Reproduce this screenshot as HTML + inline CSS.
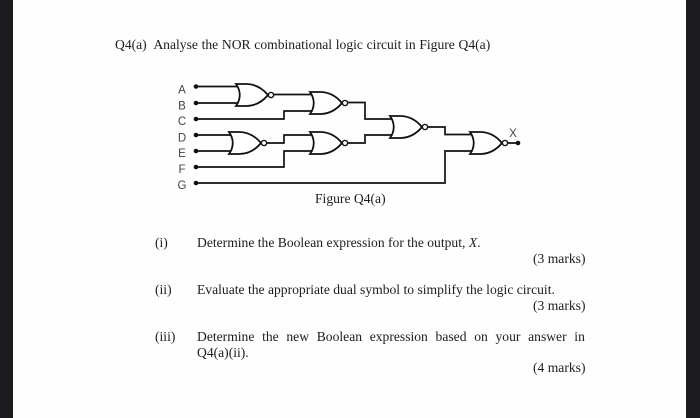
<!DOCTYPE html>
<html><head><meta charset="utf-8"><style>
html,body{margin:0;padding:0;background:#fff}
#p{position:relative;width:700px;height:418px;overflow:hidden;background:#fefefe;font-family:"Liberation Serif",serif;font-size:13.6px;color:#1c1c1c}
.t{position:absolute;white-space:nowrap;line-height:14px;filter:blur(.25px)}
.b{position:absolute;top:0;bottom:0;background:#1c1c1e}
svg{position:absolute;left:0;top:0;filter:blur(.35px)}
</style></head><body><div id="p">
<div class="b" style="left:0;width:13px"></div>
<div class="b" style="left:686px;width:14px"></div>
<svg width="700" height="418" viewBox="0 0 700 418">
<defs><g id="g"><path d="M0 0H10C20 0 27 5 32 11C27 17 20 22 10 22H0C5 15 5 7 0 0Z" fill="#fff" stroke="#111" stroke-width="1.8"/><circle cx="35" cy="11" r="2.6" fill="#fff" stroke="#111" stroke-width="1.4"/></g></defs>
<g fill="none" stroke="#111" stroke-width="1.7">
<path d="M196 86.500H238M196 103H238M274 94.500H311M196 119H284V111H312"/>
<path d="M196 135H231M196 151H231M266 143H284V135H312M196 167H284V151H312"/>
<path d="M346 102.500H365V119H392M346 143H365V135H392"/>
<path d="M427 127H445V134.500H472M196 183H445V151H472M507 143H518"/>
</g>
<use href="#g" x="236" y="84"/><use href="#g" x="310" y="92"/>
<use href="#g" x="229" y="132"/><use href="#g" x="310" y="132"/>
<use href="#g" x="390" y="116"/><use href="#g" x="470" y="132"/>
<g fill="#111"><circle cx="196" cy="86.500" r="2.300"/><circle cx="196" cy="103" r="2.300"/><circle cx="196" cy="119" r="2.300"/><circle cx="196" cy="135" r="2.300"/><circle cx="196" cy="151" r="2.300"/><circle cx="196" cy="167" r="2.300"/><circle cx="196" cy="183" r="2.300"/><circle cx="518" cy="143" r="2.300"/></g>
<g font-family="Liberation Sans,sans-serif" font-size="11.500" fill="#444" text-anchor="middle">
<text x="182" y="93.500">A</text><text x="182" y="109.500">B</text><text x="182" y="125">C</text><text x="182" y="141.500">D</text><text x="182" y="157">E</text><text x="182" y="173">F</text><text x="182" y="189">G</text><text x="513" y="137">X</text></g>
</svg>
<div class="t" style="left:115px;top:38px;word-spacing:.3px">Q4(a)&nbsp; Analyse the NOR combinational logic circuit in Figure Q4(a)</div>
<div class="t" style="left:315px;top:192px">Figure Q4(a)</div>
<div class="t" style="left:155px;top:236px">(i)</div>
<div class="t" style="left:197px;top:236px">Determine the Boolean expression for the output, <i>X</i>.</div>
<div class="t" style="left:533px;top:252px">(3 marks)</div>
<div class="t" style="left:155px;top:283px">(ii)</div>
<div class="t" style="left:197px;top:283px">Evaluate the appropriate dual symbol to simplify the logic circuit.</div>
<div class="t" style="left:533px;top:299px">(3 marks)</div>
<div class="t" style="left:155px;top:330px">(iii)</div>
<div class="t" style="left:197px;top:330px;word-spacing:4.3px">Determine the new Boolean expression based on your answer in</div>
<div class="t" style="left:197px;top:346px">Q4(a)(ii).</div>
<div class="t" style="left:533px;top:361px">(4 marks)</div>
</div></body></html>
